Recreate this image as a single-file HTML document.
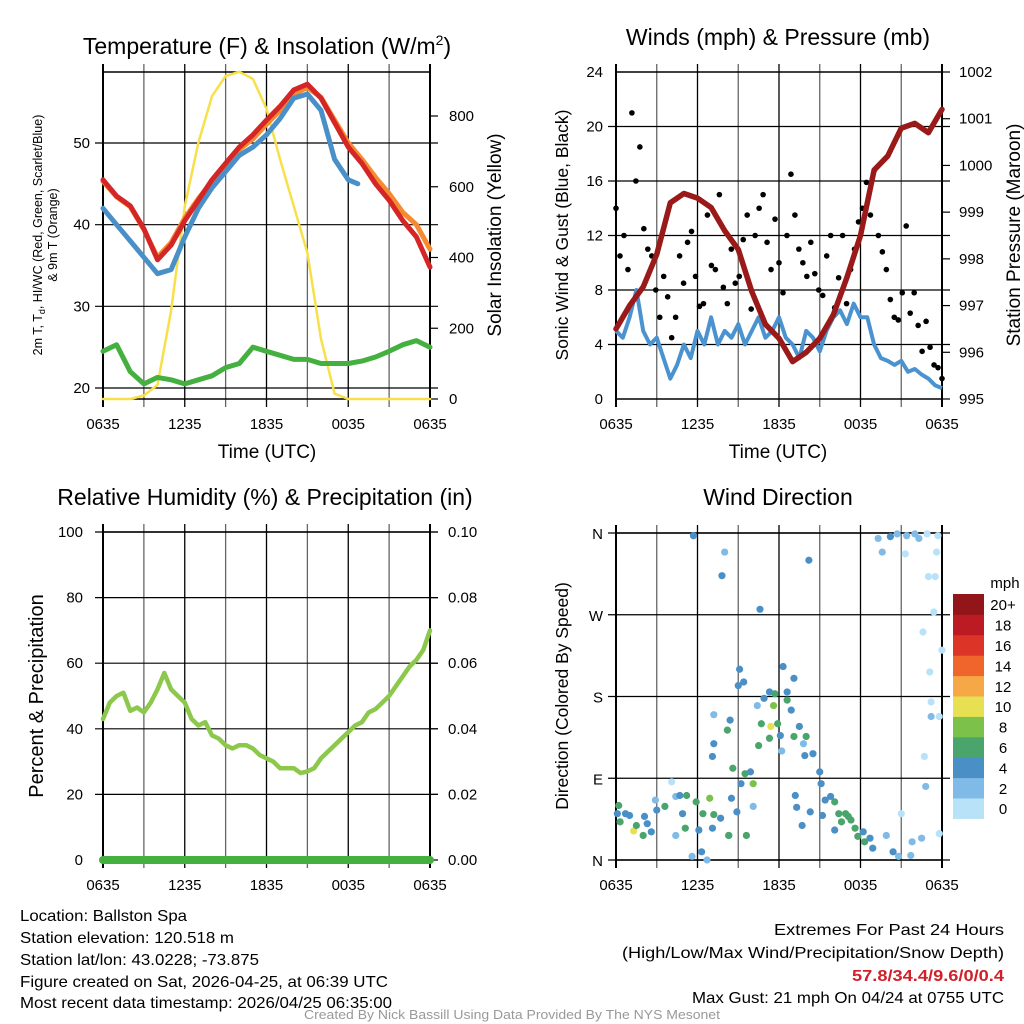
<!DOCTYPE html>
<html><head><meta charset="utf-8">
<style>
html,body{margin:0;padding:0;background:#fff;}
svg{display:block;font-family:"Liberation Sans",sans-serif;}
</style></head>
<body>
<svg id="root" width="1024" height="1024" viewBox="0 0 1024 1024" xmlns="http://www.w3.org/2000/svg">
<rect width="1024" height="1024" fill="#fff"/>
<g id="g1"></g>
<g id="g2"></g>
<g id="g3"></g>
<g id="g4"></g>
<g font-size="16" fill="#000">
<text x="20" y="921" textLength="167" lengthAdjust="spacingAndGlyphs">Location: Ballston Spa</text>
<text x="20" y="943" textLength="214" lengthAdjust="spacingAndGlyphs">Station elevation: 120.518 m</text>
<text x="20" y="965" textLength="239" lengthAdjust="spacingAndGlyphs">Station lat/lon: 43.0228; -73.875</text>
<text x="20" y="987" textLength="368" lengthAdjust="spacingAndGlyphs">Figure created on Sat, 2026-04-25, at 06:39 UTC</text>
<text x="20" y="1008" textLength="372" lengthAdjust="spacingAndGlyphs">Most recent data timestamp: 2026/04/25 06:35:00</text>
</g>
<g font-size="16" fill="#000">
<text x="774" y="935" textLength="230" lengthAdjust="spacingAndGlyphs">Extremes For Past 24 Hours</text>
<text x="622" y="958" textLength="382" lengthAdjust="spacingAndGlyphs">(High/Low/Max Wind/Precipitation/Snow Depth)</text>
<text x="852" y="981" textLength="152" lengthAdjust="spacingAndGlyphs" fill="#d0202a" font-weight="bold">57.8/34.4/9.6/0/0.4</text>
<text x="692" y="1003" textLength="312" lengthAdjust="spacingAndGlyphs">Max Gust: 21 mph On 04/24 at 0755 UTC</text>
</g>
<text x="304" y="1019" font-size="12.5" fill="#999" textLength="416" lengthAdjust="spacingAndGlyphs">Created By Nick Bassill Using Data Provided By The NYS Mesonet</text>
</svg>
<script>
// ---- data ----
const timeTicks = ["0635","1235","1835","0035","0635"];
const hrs = [0,1,2,3,4,5,6,7,8,9,10,11,12,13,14,15,16,17,18,19,20,21,22,23,24];
const tempRed = [45.5,43.5,42.3,39.5,35.7,37.5,40.5,43,45.5,47.5,49.5,51,52.8,54.5,56.5,57.2,55.5,52.5,49.5,47.5,45,43,40.5,38.5,34.8];
const tempOrange = [45.3,43.4,42.2,39.4,36,37.8,40.8,43.2,45.3,47.3,49.2,50.5,52.3,54,56,56.8,55.6,52.8,50,48,45.8,43.8,41.5,40,37];
const tempBlueHours = [0,1,2,3,4,5,6,7,8,9,10,11,12,13,14,15,16,17,18,18.7];
const tempBlue = [42,40,38,36,34,34.5,38.5,42,44.5,46.5,48.5,49.5,51,53,55.5,56,54,48,45.5,45];
const tempGreen = [24.5,25.3,22,20.5,21.3,21,20.5,21,21.5,22.5,23,25,24.5,24,23.5,23.5,23,23,23,23.3,23.8,24.5,25.3,25.8,25];
const solar = [0,0,0,10,40,250,545,725,856,913,925,905,820,677,545,413,170,15,0,0,0,0,0,0,0];
const tempTicks = [20,30,40,50];
const solarTicks = [0,200,400,600,800];

const pressure = [996.5,997.0,997.4,998.1,999.2,999.4,999.3,999.1,998.6,998.2,997.3,996.6,996.3,995.8,996.0,996.3,996.8,997.6,998.5,999.9,1000.2,1000.8,1000.9,1000.7,1001.2];
const windSpeed = [5,4.5,6,8,5,4,4.5,3,1.5,2.5,4,3,5,4,6,4,5,4.5,5.5,4,5,6,4.5,5,6,4.5,4,3,5,4.5,3.5,5,6,6.5,5.5,7,6,6,4,3,2.8,2.5,2.8,2,2.2,1.8,1.5,1,0.8];
const gusts = [14,10.5,12,9.5,21,16,18.5,12.5,11,10.5,8,6,9,7.5,4.5,6,10.5,8.5,11.5,12.3,9,6.8,7,13.5,9.8,9.5,15,8.2,7,11,8.5,9,11.7,13.5,6.6,12,14,15,11.5,9.5,13.2,10,7.8,12,16.5,13.5,11,10,9,11.5,9.2,8,7.6,10.5,12,6.7,8.9,12,7,9.5,11,13,14,15.9,13.5,16.8,12,10.8,9.5,7.3,6,5.8,7.8,12.7,6.3,7.8,5.4,3.5,5.7,3.8,2.5,2.3,1.5];
const windTicks = [0,4,8,12,16,20,24];
const pressTicks = [995,996,997,998,999,1000,1001,1002];

const rhHours = [0,0.5,1,1.5,2,2.5,3,3.5,4,4.5,5,5.5,6,6.5,7,7.5,8,8.5,9,9.5,10,10.5,11,11.5,12,12.5,13,13.5,14,14.5,15,15.5,16,16.5,17,17.5,18,18.5,19,19.5,20,20.5,21,21.5,22,22.5,23,23.5,24];
const rh = [43,48,50,51,45.5,46.5,45,48,52,57,52,50,48,43,41,42,38,37,35,34,35,35,34,32,31,30,28,28,28,26.5,27,28,31,33,35,37,39,41,42,45,46,48,50,53,56,59,61,64,70];
const precip = [0,0];
const rhTicks = [0,20,40,60,80,100];
const precipTicks = ["0.00","0.02","0.04","0.06","0.08","0.10"];

const dirHours = [0.1,0.2,0.3,0.7,1,1.3,1.5,2,2.1,2.3,2.6,2.9,3,3.6,4.1,4.4,4.4,4.7,4.9,5.2,5.1,5.6,5.7,5.9,6.1,6.3,6.4,6.7,6.9,7.1,7.2,7.7,7.8,8,8.2,8.3,8.3,8.5,8.6,7.1,7.2,7.2,8.4,8.9,9,9.1,9.4,9.6,9.2,9.5,9.9,10.1,10.1,10.4,10.5,10.6,10.7,10.9,11.3,11.3,11.4,11.6,11.7,11.9,12.1,12.2,12.3,12.6,12.6,12.9,13.1,13.1,13.5,13.8,13.9,14,14.2,13.2,13.3,13.7,14.3,14.5,15,15.1,15.2,15.4,15.8,16.1,16.1,16.4,16.6,16.9,17.1,17.3,17.6,17.8,18.2,18.3,18.7,18.9,19.3,19.6,19.9,20.2,20.4,20.7,20.8,21,21.3,21.4,21.7,21.8,22,22.3,22.5,22.6,22.7,22.8,22.9,23,23.1,23.2,23.2,23.4,23.5,23.6,23.7,23.8,23.8,24];
const dirDegrees = [51,60,42,51,49,32,38,27,48,40,31,66,55,59,86,70,27,71,51,71,35,4,357,64,33,9,51,0,68,35,50,46,313,339,143,27,27,68,101,114,128,160,154,53,192,210,196,27,84,95,97,84,59,170,126,276,150,178,185,134,147,170,183,150,137,120,213,176,185,165,200,136,147,128,115,136,330,71,58,38,53,117,97,84,49,66,70,64,33,51,42,51,48,44,35,26,31,20,24,13,354,339,27,356,9,359,4,51,337,357,5,20,359,354,24,251,114,81,359,312,207,174,158,273,312,339,357,29,158,231];
const dirSpeeds = [4,6,6,4,4,10,6,6,4,4,4,2,4,6,0,2,2,4,4,6,6,2,4,6,4,4,6,2,8,4,6,4,4,2,6,4,6,4,6,4,4,2,4,4,4,4,4,6,4,6,4,8,2,2,6,4,6,4,4,6,10,8,6,6,4,2,4,6,4,4,4,6,4,2,4,6,4,4,4,4,4,4,4,4,4,4,4,6,4,6,6,6,6,6,6,6,4,6,4,4,2,2,2,4,4,2,2,0,0,2,2,2,2,2,2,0,0,2,0,0,0,0,2,0,0,0,0,0,0,0];
const dirTicks = ["N","E","S","W","N"];
const speedLabels = ["0","2","4","6","8","10","12","14","16","18","20+"];
const speedColors = ["#b8e2f8","#7fbbe6","#4a8fc6","#4aa56c","#7cc24a","#e6e052","#f5a845","#ef652c","#dd3428","#bd1b24","#92151a"];

// ---- helpers ----
const NS = "http://www.w3.org/2000/svg";
function mk(parent, tag, attrs, txt){
  const el = document.createElementNS(NS, tag);
  for (const k in attrs) el.setAttribute(k, attrs[k]);
  if (txt !== undefined) el.textContent = txt;
  parent.appendChild(el);
  return el;
}
function lin(d0,d1,r0,r1){ return v => r0 + (v-d0)/(d1-d0)*(r1-r0); }
function pathFrom(xs, ys, fx, fy){
  return xs.map((x,i)=> (i?'L':'M') + fx(x).toFixed(1) + ' ' + fy(ys[i]).toFixed(1)).join(' ');
}
function frame(g, L, R, T, B, hLines, tickFont){
  // vertical gridlines every 3 h
  const fx = lin(0,24,L,R);
  for (let h=0; h<=24; h+=3){
    const el = mk(g,'line',{x1:fx(h),x2:fx(h),y1:T-8,y2:B+8,stroke:(h%6===0)?'#000':'#666','stroke-width':(h===0||h===24)?2:1.3});
    
    
  }
  hLines.forEach(y=>{
    const el = mk(g,'line',{x1:L-8,x2:R+8,y1:y,y2:y,stroke:'#000','stroke-width':1.2});
    
    
  });
  const box = mk(g,'rect',{x:L,y:T,width:R-L,height:B-T,fill:'none',stroke:'#000','stroke-width':1.5});
  
  
  timeTicks.forEach((t,i)=>{
    const el = mk(g,'text',{x:fx(i*6),y:B+30,'font-size':15,'text-anchor':'middle'},t);
    
    
  });
  return fx;
}

// ---- panel 1 ----
(function(){
  const g = document.getElementById('g1');
  const L=103,R=430,T=72,B=399;
  const fy = lin(20,50,388,143);
  const fs = lin(0,800,399,116);
  const fx = frame(g,L,R,T,B,tempTicks.map(fy));
  tempTicks.forEach(v=>{
    const el = mk(g,'text',{x:L-13,y:fy(v)+5,'font-size':15,'text-anchor':'end'},v);
    
    
  });
  solarTicks.forEach(v=>{
    const t = mk(g,'line',{x1:R,x2:R+8,y1:fs(v),y2:fs(v),stroke:'#000','stroke-width':1.2});
    
    
    const el = mk(g,'text',{x:R+19,y:fs(v)+5,'font-size':15},v);
    
    
  });
  const ser = [
    ['solar-line', hrs, solar, fs, '#f7e04a', 2.5],
    ['dewpoint-line-green', hrs, tempGreen, fy, '#44b040', 5],
    ['temp-9m-orange', hrs, tempOrange, fy, '#f58a30', 5],
    ['temp-line-blue', tempBlueHours, tempBlue, fy, '#4a90c8', 5],
    ['temp-2m-red', hrs, tempRed, fy, '#d42626', 5]
  ];
  ser.forEach(s=>{
    const el = mk(g,'path',{d:pathFrom(s[1],s[2],fx,s[3]),fill:'none',stroke:s[4],'stroke-width':s[5],'stroke-linejoin':'round','stroke-linecap':'round'});
    
    
  });
  const t1 = mk(g,'text',{x:267,y:54,'font-size':23,'text-anchor':'middle'});
  t1.innerHTML = 'Temperature (F) &amp; Insolation (W/m<tspan font-size="14" dy="-9">2</tspan><tspan dy="9">)</tspan>';
  
  
  const xt = mk(g,'text',{x:267,y:458,'font-size':19,'text-anchor':'middle'},'Time (UTC)');
  
  
  const yl = mk(g,'text',{transform:'translate(42,235) rotate(-90)','font-size':12.5,'text-anchor':'middle'});
  yl.innerHTML = '2m T, T<tspan font-size="9" dy="3">d</tspan><tspan dy="-3">, HI/WC (Red, Green, Scarlet/Blue)</tspan>';
  
  
  const yl2 = mk(g,'text',{transform:'translate(57,235) rotate(-90)','font-size':12.5,'text-anchor':'middle'},'& 9m T (Orange)');
  
  
  const yr = mk(g,'text',{transform:'translate(501,235) rotate(-90)','font-size':19,'text-anchor':'middle'},'Solar Insolation (Yellow)');
  
  
})();

// ---- panel 2 ----
(function(){
  const g = document.getElementById('g2');
  const L=616,R=942,T=72,B=399;
  const fy = lin(0,24,399,72);
  const fp = lin(995,1002,399,72);
  const fx = frame(g,L,R,T,B,windTicks.filter(v=>v>0&&v<24).map(fy));
  windTicks.forEach(v=>{
    const el = mk(g,'text',{x:L-13,y:fy(v)+5,'font-size':15,'text-anchor':'end'},v);
    
    
  });
  pressTicks.forEach(v=>{
    const t = mk(g,'line',{x1:R,x2:R+8,y1:fp(v),y2:fp(v),stroke:'#000','stroke-width':1.2});
    
    
    const el = mk(g,'text',{x:R+17,y:fp(v)+5,'font-size':15},v);
    
    
  });
  const wsH = windSpeed.map((_,i)=>i*24/(windSpeed.length-1));
  const w = mk(g,'path',{d:pathFrom(wsH,windSpeed,fx,fy),fill:'none',stroke:'#4a93d0','stroke-width':4,'stroke-linejoin':'round'});
  
  
  gusts.forEach((v,i)=>{
    const c = mk(g,'circle',{cx:fx(i*24/(gusts.length-1)),cy:fy(v),r:2.8,fill:'#000'});
    
    
  });
  const p = mk(g,'path',{d:pathFrom(hrs,pressure,fx,fp),fill:'none',stroke:'#9a1a1a','stroke-width':5.5,'stroke-linejoin':'round','stroke-linecap':'round'});
  
  
  const t = mk(g,'text',{x:778,y:45,'font-size':23,'text-anchor':'middle'},'Winds (mph) & Pressure (mb)');
  
  
  const xt = mk(g,'text',{x:778,y:458,'font-size':19,'text-anchor':'middle'},'Time (UTC)');
  
  
  const yl = mk(g,'text',{transform:'translate(568,235) rotate(-90)','font-size':17.5,'text-anchor':'middle'},'Sonic Wind & Gust (Blue, Black)');
  
  
  const yr = mk(g,'text',{transform:'translate(1020,235) rotate(-90)','font-size':19,'text-anchor':'middle'},'Station Pressure (Maroon)');
  
  
})();

// ---- panel 3 ----
(function(){
  const g = document.getElementById('g3');
  const L=103,R=430,T=532,B=860;
  const fy = lin(0,100,860,532);
  const fx = frame(g,L,R,T,B,rhTicks.filter(v=>v>0).map(fy));
  rhTicks.forEach((v,i)=>{
    const el = mk(g,'text',{x:L-20,y:fy(v)+5,'font-size':15,'text-anchor':'end'},v);
    
    
    const t = mk(g,'line',{x1:R,x2:R+8,y1:fy(v),y2:fy(v),stroke:'#000','stroke-width':1.2});
    
    
    const el2 = mk(g,'text',{x:R+18,y:fy(v)+5,'font-size':15},precipTicks[i]);
    
    
  });
  const fpr = lin(0,0.1,860,532);
  const pr = mk(g,'path',{d:pathFrom([0,24],precip,fx,fpr),fill:'none',stroke:'#44b040','stroke-width':8,'stroke-linecap':'round'});
  
  
  const r = mk(g,'path',{d:pathFrom(rhHours,rh,fx,fy),fill:'none',stroke:'#8cc84b','stroke-width':4.5,'stroke-linejoin':'round','stroke-linecap':'round'});
  
  
  const t = mk(g,'text',{x:265,y:505,'font-size':23,'text-anchor':'middle'},'Relative Humidity (%) & Precipitation (in)');
  
  
  const yl = mk(g,'text',{transform:'translate(43,696) rotate(-90)','font-size':20,'text-anchor':'middle'},'Percent & Precipitation');
  
  
})();

// ---- panel 4 ----
(function(){
  const g = document.getElementById('g4');
  const L=616,R=942,T=533,B=860;
  const fy = lin(0,360,860,533);
  const fx = frame(g,L,R,T,B,[90,180,270,360].map(fy));
  dirTicks.forEach((d,i)=>{
    const el = mk(g,'text',{x:L-13,y:fy(i*90)+6,'font-size':15,'text-anchor':'end'},d);
    
    
  });
  const bl = mk(g,'line',{x1:L-8,x2:R+8,y1:B,y2:B,stroke:'#000','stroke-width':1.2});
  
  
  dirHours.forEach((h,i)=>{
    const ci = Math.min(10, Math.floor(dirSpeeds[i]/2));
    const c = mk(g,'circle',{cx:fx(h),cy:fy(dirDegrees[i]),r:3.6,fill:speedColors[ci]});
    
    
  });
  const bh = 20.4, by = 594;
  speedLabels.forEach((lab,i)=>{
    const yy = by + (10-i)*bh;
    const r = mk(g,'rect',{x:953,y:yy,width:31,height:bh+0.5,fill:speedColors[i]});
    
    
    const t = mk(g,'text',{x:1003,y:yy+bh/2+6,'font-size':15,'text-anchor':'middle'},lab);
    
    
  });
  const u = mk(g,'text',{x:1005,y:588,'font-size':15,'text-anchor':'middle'},'mph');
  
  
  const t = mk(g,'text',{x:778,y:505,'font-size':23,'text-anchor':'middle'},'Wind Direction');
  
  
  const yl = mk(g,'text',{transform:'translate(568,696) rotate(-90)','font-size':17.5,'text-anchor':'middle'},'Direction (Colored By Speed)');
  
  
})();
</script>
</body></html>
